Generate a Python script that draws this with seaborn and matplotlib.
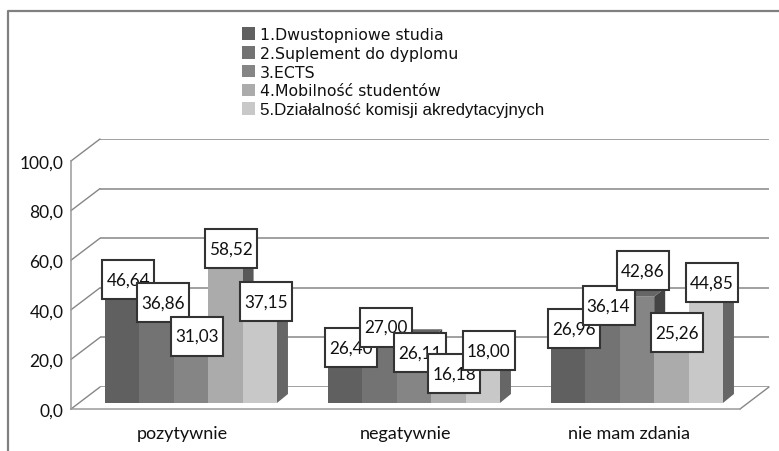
import matplotlib
matplotlib.use("Agg")
import matplotlib.pyplot as plt
import pandas as pd
import seaborn as sns
from matplotlib.lines import Line2D
from matplotlib.offsetbox import AnnotationBbox, DrawingArea
from matplotlib.patches import Patch, Polygon, Rectangle
from matplotlib.text import Text

categories = ["pozytywnie", "negatywnie", "nie mam zdania"]
series_names = ["1.Dwustopniowe studia", "2.Suplement do dyplomu", "3.ECTS",
                "4.Mobilność studentów", "5.Działalność komisji akredytacyjnych"]
dwustopniowe = [46.64, 26.40, 26.96]
suplement = [36.86, 27.00, 36.14]
ects = [31.03, 26.11, 42.86]
mobilnosc = [58.52, 16.18, 25.26]
komisje = [37.15, 18.00, 44.85]
y_ticks = [0, 20, 40, 60, 80, 100]

W, H = 779, 452
colors = ["#606060", "#737373", "#858585", "#ababab", "#c8c8c8"]
side_colors = ["#4a4a4a", "#4a4a4a", "#444444", "#595959", "#666666"]
top_colors = ["#666666", "#666666", "#666666", "#666666", "#666666"]
# label centre relative to bar top, pixels (up positive), per series then category
nudge = [[8, -10, 8], [9, 9, 8], [-10, -14, 26], [9, -11, 8], [9, 8, 9]]
nudge_dx = 6
PT = 0.72  # points per pixel at dpi 100

sns.set_theme(style="white")
plt.rcParams["font.family"] = ["Lato", "DejaVu Sans"]

fig = plt.figure(figsize=(W / 100, H / 100), dpi=100, facecolor="white")


def pixel_axes(x0, x1, y_bottom, y_top, z):
    return fig.add_axes([x0 / W, 1 - y_bottom / H, (x1 - x0) / W, (y_bottom - y_top) / H],
                        facecolor="none", zorder=z)


GRID = "#868686"
AXIS = "#9a9a9a"
# back wall
back = pixel_axes(100, 769, 388, 140, 1)
back.set_xlim(-0.5, 2.5); back.set_ylim(0, 100)
back.set_yticks(y_ticks); back.set_xticks([])
back.set_yticklabels([])
back.tick_params(length=0)
back.grid(axis="y", color=GRID, lw=1.1)
back.set_axisbelow(True)
sns.despine(ax=back, left=True, bottom=True)

# front axis frame with the ticks and their labels
front = pixel_axes(71, 740, 410, 162, 2)
front.set_xlim(-0.5, 2.5); front.set_ylim(0, 100)
front.set_yticks(y_ticks)
front.set_yticklabels([f"{v:.1f}".replace(".", ",") for v in y_ticks], fontsize=12.5)
front.set_xticks(range(len(categories)))
front.set_xticklabels(categories, fontsize=13)
front.set_xticks([-0.5, 0.5, 1.5, 2.5], minor=True)
front.tick_params(axis="x", which="major", length=0, pad=11.5, colors="#111111")
front.tick_params(axis="x", which="minor", length=4, color=AXIS, width=1)
front.tick_params(axis="y", length=3, color=AXIS, width=1, pad=2.5, colors="#111111")
for s in ["left", "bottom"]:
    front.spines[s].set_color(AXIS)
    front.spines[s].set_linewidth(1.1)
sns.despine(ax=front)

# receding lines from the front axis to the back wall
for v in y_ticks:
    py = 410 - 2.48 * v
    fig.add_artist(Line2D([71 / W, 100 / W], [1 - py / H, 1 - (py - 22) / H], color=GRID, lw=1.0))
fig.add_artist(Line2D([740 / W, 769 / W], [1 - 410 / H, 1 - 388 / H], color=GRID, lw=1.0))

# bars
ax = pixel_axes(79.5, 748.5, 404, 156, 3)
df = pd.DataFrame({
    "kategoria": categories * 5,
    "seria": [n for n in series_names for _ in categories],
    "wartosc": dwustopniowe + suplement + ects + mobilnosc + komisje,
})
sns.barplot(data=df, x="kategoria", y="wartosc", hue="seria", hue_order=series_names,
            order=categories, palette=colors, width=0.771, gap=0, saturation=1,
            legend=False, ax=ax, linewidth=0, zorder=5)
ax.set_xlim(-0.5, 2.5); ax.set_ylim(0, 100)
ax.axis("off")

dx = 11 / (669 / 3)
dy = 9 / 2.48
BOX_W, BOX_H = 52 * PT, 39 * PT
for si, cont in enumerate(ax.containers):
    for ci, bar in enumerate(cont):
        x0, w, h = bar.get_x(), bar.get_width(), bar.get_height()
        x1 = x0 + w
        ax.add_patch(Polygon([(x1, 0), (x1 + dx, dy), (x1 + dx, h + dy), (x1, h)],
                             closed=True, fc=side_colors[si], ec="none", zorder=2 + si * .1, clip_on=False))
        ax.add_patch(Polygon([(x0, h), (x1, h), (x1 + dx, h + dy), (x0 + dx, h + dy)],
                             closed=True, fc=top_colors[si], ec="none", zorder=2 + si * .1, clip_on=False))
        box = DrawingArea(BOX_W, BOX_H, 0, 0)
        box.add_artist(Rectangle((0, 0), BOX_W, BOX_H, fc="white", ec="#333333", lw=1.5))
        box.add_artist(Text(BOX_W / 2, BOX_H / 2, f"{h:.2f}".replace(".", ","), ha="center", va="center",
                            fontsize=12.3, color="#111111", family=["Lato", "DejaVu Sans"]))
        ab = AnnotationBbox(box, (x0 + w / 2, h), xycoords="data",
                            xybox=(nudge_dx * PT, nudge[si][ci] * PT), boxcoords="offset points",
                            box_alignment=(0.5, 0.5), frameon=False, pad=0, annotation_clip=False,
                            zorder=10 + si)
        ax.add_artist(ab)

# legend
handles = [Patch(fc=c, ec="none") for c in colors]
leg = fig.legend(handles, series_names, loc="upper left", bbox_to_anchor=(239 / W, 1 - 25 / H),
                 frameon=False, fontsize=11.5, labelspacing=0.235, handlelength=0.82,
                 handleheight=0.82, handletextpad=0.28, borderpad=0.2, borderaxespad=0)
for t in leg.get_texts()[:4]:
    t.set_family("DejaVu Sans"); t.set_color("#111111"); t.set_fontsize(11.3)
leg.get_texts()[4].set_family("Liberation Sans")
leg.get_texts()[4].set_color("#111111")
leg.get_texts()[4].set_fontsize(12.2)
leg.set_zorder(20)

# outer frame
fig.add_artist(Line2D([7.5 / W, 7.5 / W, 779 / W], [0, 1 - 12 / H, 1 - 12 / H], color="#808080", lw=1.6))

fig.savefig("out.png", dpi=100)
